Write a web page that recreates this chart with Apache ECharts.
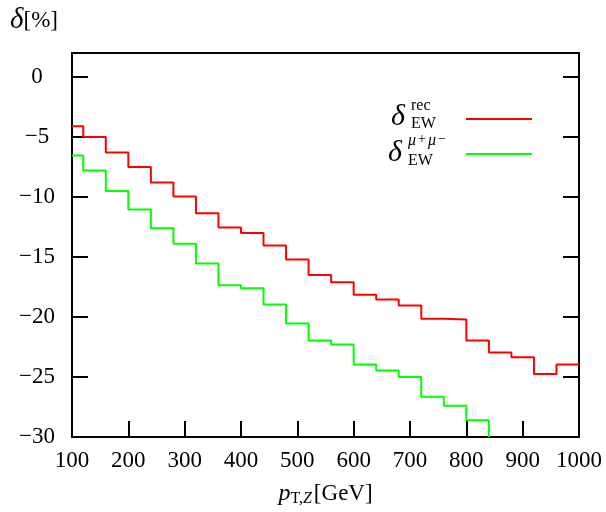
<!DOCTYPE html>
<html>
<head>
<meta charset="utf-8">
<script src="https://cdn.jsdelivr.net/npm/echarts@6/dist/echarts.min.js"></script>
<style>
  html, body { margin: 0; padding: 0; background: #fff; }
  #main { width: 606px; height: 512px; }
</style>
</head>
<body>
<div id="main"></div>
<script>
// bin edges in GeV
const binEdges = [100, 120, 160, 200, 240, 280, 320, 360, 400, 440, 480, 520, 560,
  600, 640, 680, 720, 760, 800, 840, 880, 920, 960, 1000];
// delta_EW^rec per bin [%]
const deltaRec = [-4.1, -5.0, -6.3, -7.5, -8.8, -9.95, -11.35, -12.55, -13.0, -14.05,
  -15.2, -16.5, -17.1, -18.15, -18.55, -19.05, -20.15, -20.2, -21.95, -22.95,
  -23.35, -24.75, -23.95];
// delta_EW^mu+mu- per bin [%] (drops below the frame after 840 GeV)
const deltaMuMu = [-6.55, -7.8, -9.5, -11.05, -12.6, -13.9, -15.55, -17.35, -17.6,
  -18.95, -20.55, -21.95, -22.3, -23.95, -24.45, -25.0, -26.65, -27.4, -28.6];

const xMin = 100, xMax = 1000;
const yMin = -30, yMax = 2;

window.onload = function () {
  let chart = echarts.init(document.getElementById('main'));

  // histogram -> step points
  function stepData(values) {
    let pts = values.map(function (v, i) { return [binEdges[i], v]; });
    pts.push([binEdges[values.length], values[values.length - 1]]);
    return pts;
  }
  let muData = stepData(deltaMuMu);
  muData.push([binEdges[deltaMuMu.length], yMin]); // falls out of range

  const font = 'Liberation Serif';
  const black = '#000';

  function legendAt(name, top) {
    return {
      right: 69, top: top,
      align: 'right',
      icon: 'rect',
      itemWidth: 66, itemHeight: 2,
      formatter: function () { return ''; },
      textStyle: { fontSize: 1, lineHeight: 1 },
      data: [name]
    };
  }

  let option = {
    animation: false,
    grid: {
      left: 72, right: 27, top: 53, bottom: 75,
      show: true, borderColor: black, borderWidth: 2
    },
    legend: [legendAt('rec', 113), legendAt('mumu', 148)],
    xAxis: {
      type: 'value',
      min: xMin, max: xMax, interval: 100,
      name: '{i|p}{s|T,}{si|Z}[GeV]',
      nameLocation: 'middle',
      nameGap: 44,
      nameTextStyle: {
        fontFamily: font, fontSize: 23, color: black,
        rich: {
          i: { fontFamily: font, fontStyle: 'italic', fontSize: 24, color: black },
          s: { fontFamily: font, fontSize: 16, color: black, verticalAlign: 'bottom', padding: [10, 0, 0, 0] },
          si: { fontFamily: font, fontStyle: 'italic', fontSize: 16, color: black, verticalAlign: 'bottom', padding: [10, 2, 0, 0] }
        }
      },
      axisLine: { onZero: false, lineStyle: { color: black, width: 2 } },
      axisTick: { inside: true, length: 16, lineStyle: { color: black, width: 2 } },
      axisLabel: {
        fontFamily: font, fontSize: 23, color: black, margin: 12,
        formatter: function (v) { return String(v); }
      },
      splitLine: { show: false }
    },
    yAxis: [
      {
        type: 'value',
        min: yMin, max: yMax, interval: 5,
        name: '{i|δ}[%]',
        nameLocation: 'end',
        nameGap: 18,
        nameTextStyle: {
          fontFamily: font, fontSize: 23, color: black,
          align: 'right', verticalAlign: 'bottom', padding: [0, 14, 0, 0],
          rich: {
            i: { fontFamily: font, fontStyle: 'italic', fontSize: 29, color: black }
          }
        },
        axisLine: { onZero: false, lineStyle: { color: black, width: 2 } },
        axisTick: { inside: true, length: 16, lineStyle: { color: black, width: 2 } },
        axisLabel: {
          fontFamily: font, fontSize: 23, color: black,
          align: 'center', margin: 35,
          formatter: function (v) {
            if (v % 5 !== 0) return '';
            return String(v).replace('-', '\u2212');
          }
        },
        splitLine: { show: false }
      },
      {
        type: 'value',
        position: 'right',
        min: yMin, max: yMax, interval: 5,
        axisLine: { show: true, onZero: false, lineStyle: { color: black, width: 2 } },
        axisTick: { inside: true, length: 16, lineStyle: { color: black, width: 2 } },
        axisLabel: { show: false },
        splitLine: { show: false }
      }
    ],
    graphic: [
      // legend labels
      { type: 'text', left: 391, top: 102, style: { text: 'δ', font: 'italic 30px ' + font, fill: black } },
      { type: 'text', left: 411, top: 98, style: { text: 'rec', font: '16px ' + font, fill: black } },
      { type: 'text', left: 411, top: 116, style: { text: 'EW', font: '16px ' + font, fill: black } },
      { type: 'text', left: 388, top: 138, style: { text: 'δ', font: 'italic 30px ' + font, fill: black } },
      {
        type: 'text', left: 408, top: 132,
        style: {
          text: '{m|μ}{p|+}{m|μ}{p|\u2212}',
          rich: {
            m: { font: 'italic 16px ' + font, fill: black, lineHeight: 18, padding: [0, 1, 0, 0] },
            p: { font: '14px ' + font, fill: black, verticalAlign: 'top', lineHeight: 14, padding: [0, 2, 0, 1] }
          }
        }
      },
      { type: 'text', left: 408, top: 153, style: { text: 'EW', font: '16px ' + font, fill: black } }
    ],
    series: [
      {
        name: 'rec',
        type: 'line',
        step: 'end',
        showSymbol: false,
        symbol: 'none',
        data: stepData(deltaRec),
        lineStyle: { color: '#ff0000', width: 2 },
        itemStyle: { color: '#ff0000' }
      },
      {
        name: 'mumu',
        type: 'line',
        step: 'end',
        showSymbol: false,
        symbol: 'none',
        data: muData,
        lineStyle: { color: '#00ff00', width: 2 },
        itemStyle: { color: '#00ff00' }
      }
    ]
  };

  chart.setOption(option);
};
</script>
</body>
</html>
